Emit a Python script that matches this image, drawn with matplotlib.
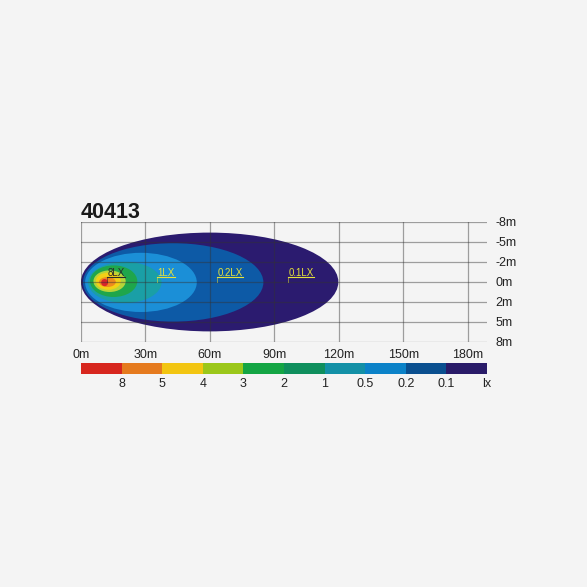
"""Beam-pattern isolux chart for lamp 40413."""

import matplotlib

matplotlib.use("Agg")
import matplotlib.pyplot as plt
from matplotlib.patches import Ellipse, Rectangle

MODEL = "40413"

# distance ticks (m) and lateral grid labels
X_TICKS = [0, 30, 60, 90, 120, 150, 180]
Y_LABELS = ["-8m", "-5m", "-2m", "0m", "2m", "5m", "8m"]

# isolux zones, outermost first: (lux, centre x [m], half length [m], half width [grid], centre y [grid])
ZONE_LUX = [0.1, 0.2, 0.5, 1, 2, 3, 4, 5, 8]
ZONE_CX = [59.9, 42.9, 27.9, 20.4, 15.2, 13.3, 12.7, 12.3, 11.0]
ZONE_HX = [59.9, 42.0, 26.0, 17.1, 11.0, 7.5, 5.8, 3.9, 1.6]
ZONE_HY = [2.47, 1.96, 1.48, 1.03, 0.79, 0.54, 0.43, 0.25, 0.18]
ZONE_CY = [0.0, 0.02, 0.02, 0.02, -0.04, -0.04, -0.04, 0.0, 0.03]
ZONE_COLORS = ["#2b1b6f", "#0d5aa6", "#1b8fd7", "#1a9fa6", "#1fa64b",
               "#b7d43a", "#f3d016", "#ee8a1e", "#d8262b"]

# labelled contours
LABEL_TEXT = ["8LX", "1LX", "0.2LX", "0.1LX"]
LABEL_X = [12.0, 35.2, 63.2, 96.2]
LABEL_COLORS = ["#2a2a2a", "#e6e23a", "#e6e23a", "#e6e23a"]

# colour legend
LEGEND_COLORS = ["#d7261e", "#e57a1e", "#f2c511", "#9bc71a", "#14a544",
                 "#0f8f5d", "#1390a6", "#0b82c8", "#0a4f8f", "#291b68"]
LEGEND_LABELS = ["8", "5", "4", "3", "2", "1", "0.5", "0.2", "0.1"]

BG = "#f4f4f4"
FONT = ["Liberation Sans", "DejaVu Sans"]


def main() -> None:
    plt.rcParams["font.family"] = FONT
    fig = plt.figure(figsize=(5.87, 5.87), dpi=100, facecolor=BG)

    W = H = 587.0
    ax = fig.add_axes([81 / W, (H - 342) / H, 406 / W, 120 / H])
    ax.set_facecolor(BG)
    ax.set_xlim(0, 189)
    ax.set_ylim(3, -3)

    for lux, cx, hx, hy, cy, col in zip(ZONE_LUX, ZONE_CX, ZONE_HX, ZONE_HY, ZONE_CY, ZONE_COLORS):
        ax.add_patch(Ellipse((cx, cy), 2 * hx, 2 * hy, facecolor=col, edgecolor="none", zorder=1))

    ypos = list(range(-3, 4))
    for y in ypos:
        ax.axhline(y, color="#333333", alpha=0.45, lw=0.9, zorder=3)
    for x in X_TICKS:
        ax.axvline(x, color="#333333", alpha=0.45, lw=0.9, zorder=3)

    for side in ax.spines.values():
        side.set_visible(False)
    ax.set_xticks(X_TICKS)
    ax.set_xticklabels([f"{x}m" for x in X_TICKS])
    ax.set_yticks(ypos)
    ax.set_yticklabels(Y_LABELS)
    ax.yaxis.tick_right()
    ax.tick_params(axis="x", length=0, pad=5, labelsize=9, labelcolor="#222222")
    ax.tick_params(axis="y", length=0, pad=6, labelsize=9, labelcolor="#222222")

    texts = []
    for txt, x, col in zip(LABEL_TEXT, LABEL_X, LABEL_COLORS):
        t = ax.text(x + 0.3, -0.32, txt, color=col, fontsize=7, ha="left", va="baseline", zorder=5)
        texts.append((t, x, col))

    fig.canvas.draw()
    inv = ax.transData.inverted()
    for t, x, col in texts:
        bb = t.get_window_extent()
        x_end = inv.transform((bb.x1, bb.y0))[0]
        ax.plot([x, x_end], [-0.25, -0.25], color=col, lw=0.8, zorder=5)
        ax.plot([x, x], [-0.25, 0.0], color=col, lw=0.6, alpha=0.6, zorder=5)

    fig.text(81 / W, (H - 218.3) / H, MODEL, fontsize=15.5, fontweight="bold",
             color="#1a1a1a", ha="left", va="baseline")

    # colour legend bar
    cax = fig.add_axes([81 / W, (H - 374) / H, 406 / W, 11 / H])
    n = len(LEGEND_COLORS)
    for i, col in enumerate(LEGEND_COLORS):
        cax.add_patch(Rectangle((i, 0), 1, 1, facecolor=col, edgecolor="none"))
    cax.set_xlim(0, n)
    cax.set_ylim(0, 1)
    cax.axis("off")
    for i, lab in enumerate(LEGEND_LABELS, start=1):
        cax.text(i, -0.95, lab, ha="center", va="center", fontsize=9, color="#222222")
    cax.text(n, -0.95, "lx", ha="center", va="center", fontsize=9, color="#222222")

    fig.savefig("out.png", dpi=100, facecolor=BG)


if __name__ == "__main__":
    main()
